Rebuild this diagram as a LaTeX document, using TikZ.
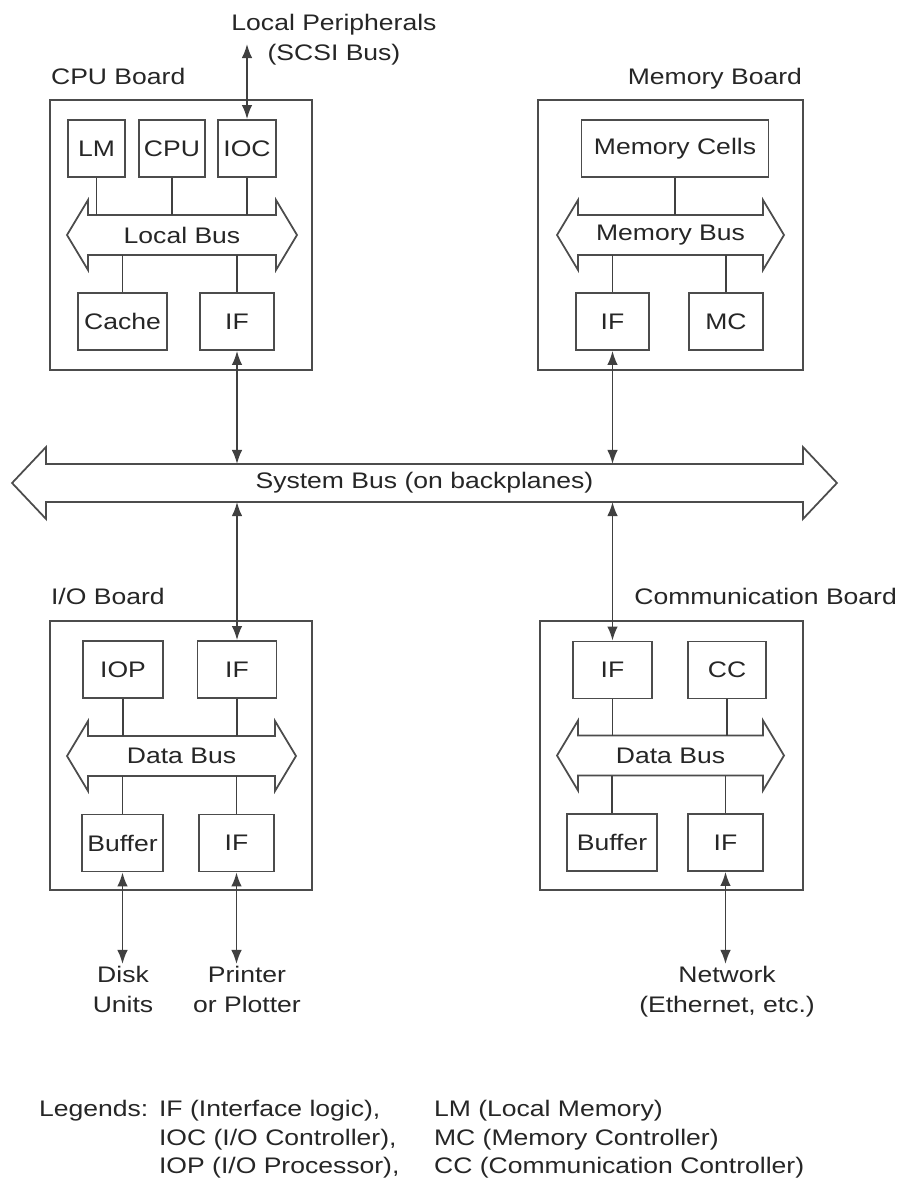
\documentclass[tikz,border=0pt]{standalone}
\usepackage{fontspec}
\setmainfont{Liberation Sans}[FakeStretch=1.18]
\usetikzlibrary{arrows.meta}

\tikzset{
    unit/.style={draw=black!70, line width=1pt, minimum height=1.14cm, inner sep=0pt, text=black!85},
    board/.style={draw=black!70, line width=1pt, inner sep=0pt},
    bus/.style={minimum height=0.8cm, inner sep=0pt, outer sep=0pt, text=black!85},
    busline/.style={draw=black!70, line width=1pt, line join=miter},
    link/.style={draw=black!75, line width=1pt},
    txt/.style={text=black!85, inner sep=1pt},
}

\begin{document}
\begin{tikzpicture}[x=0.02cm, y=-0.02cm, >={Latex[length=8pt,width=6pt]},
    font=\fontsize{12.8pt}{17pt}\selectfont]
    % Khung hình
    \fill[white] (0,0) rectangle (903,1179);
    \useasboundingbox (0,0) rectangle (903,1179);

    % 1. CPU Board
    \node[board, minimum width=5.24cm, minimum height=5.4cm] (cpuboard) at (181,235) {};
    \node[txt, anchor=base west] (cpulabel) at (49,85) {CPU Board};
    \node[unit, minimum width=1.14cm] (lm) at (96.5,148.5) {LM};
    \node[unit, minimum width=1.32cm] (cpu) at (172,148.5) {CPU};
    \node[unit, minimum width=1.16cm] (ioc) at (247,148.5) {IOC};
    \node[unit, minimum width=1.78cm] (cache) at (122.5,321.5) {Cache};
    \node[unit, minimum width=1.48cm] (cpuif) at (237,321.5) {IF};
    \node[bus, minimum width=3.76cm] (lbus) at (182,235) {Local Bus};
    \draw[busline] (lbus.north west) -- ++(0,-15) -- ++(-21,35) -- ++(21,35) -- ++(0,-15)
        -- (lbus.south east) -- ++(0,15) -- ++(21,-35) -- ++(-21,-35) -- ++(0,15) -- cycle;
    \draw[link] (lm.south) -- (lm.south |- lbus.north);
    \draw[link] (cpu.south) -- (cpu.south |- lbus.north);
    \draw[link] (ioc.south) -- (ioc.south |- lbus.north);
    \draw[link] (cache.north) -- (cache.north |- lbus.south);
    \draw[link] (cpuif.north) -- (cpuif.north |- lbus.south);

    % 2. Local peripherals
    \node[txt, align=center] (periph) at (334,40) {Local Peripherals\\(SCSI Bus)};
    \coordinate (scsi) at (247,44);
    \draw[link, <->] (ioc.north) -- (scsi);

    % 3. Memory Board
    \node[board, minimum width=5.3cm, minimum height=5.4cm] (memboard) at (670.5,235) {};
    \node[txt, anchor=base east] (memlabel) at (804,85) {Memory Board};
    \node[unit, minimum width=3.74cm] (cells) at (675,148.5) {Memory Cells};
    \node[unit, minimum width=1.46cm] (memif) at (612.5,321.5) {IF};
    \node[unit, minimum width=1.48cm] (mc) at (726,321.5) {MC};
    \node[bus, minimum width=3.7cm] (mbus) at (670.5,235) {Memory Bus};
    \draw[busline] (mbus.north west) -- ++(0,-15) -- ++(-21,35) -- ++(21,35) -- ++(0,-15)
        -- (mbus.south east) -- ++(0,15) -- ++(21,-35) -- ++(-21,-35) -- ++(0,15) -- cycle;
    \draw[link] (cells.south) -- (cells.south |- mbus.north);
    \draw[link] (memif.north) -- (memif.north |- mbus.south);
    \draw[link] (mc.north) -- (mc.north |- mbus.south);

    % 4. System Bus
    \node[bus, minimum width=15.14cm, minimum height=0.76cm] (sysbus) at (424.5,483) {System Bus (on backplanes)};
    \draw[busline] (sysbus.north west) -- ++(0,-17) -- ++(-34,36) -- ++(34,36) -- ++(0,-17)
        -- (sysbus.south east) -- ++(0,17) -- ++(34,-36) -- ++(-34,-36) -- ++(0,17) -- cycle;

    % 5. I/O Board
    \node[board, minimum width=5.24cm, minimum height=5.38cm] (ioboard) at (181,755.5) {};
    \node[txt, anchor=base west] (iolabel) at (49,604) {I/O Board};
    \node[unit, minimum width=1.6cm] (iop) at (123,669.5) {IOP};
    \node[unit, minimum width=1.58cm] (ioif) at (237,669.5) {IF};
    \node[unit, minimum width=1.62cm] (iobuf) at (122.5,843) {Buffer};
    \node[unit, minimum width=1.5cm] (ioifb) at (236.5,843) {IF};
    \node[bus, minimum width=3.74cm] (iobus) at (181.5,756) {Data Bus};
    \draw[busline] (iobus.north west) -- ++(0,-15) -- ++(-21,35) -- ++(21,35) -- ++(0,-15)
        -- (iobus.south east) -- ++(0,15) -- ++(21,-35) -- ++(-21,-35) -- ++(0,15) -- cycle;
    \draw[link] (iop.south) -- (iop.south |- iobus.north);
    \draw[link] (ioif.south) -- (ioif.south |- iobus.north);
    \draw[link] (iobuf.north) -- (iobuf.north |- iobus.south);
    \draw[link] (ioifb.north) -- (ioifb.north |- iobus.south);

    % 6. Communication Board
    \node[board, minimum width=5.26cm, minimum height=5.38cm] (comboard) at (671.5,755.5) {};
    \node[txt, anchor=base east] (comlabel) at (899,604) {Communication Board};
    \node[unit, minimum width=1.58cm] (comif) at (612.5,670) {IF};
    \node[unit, minimum width=1.56cm] (cc) at (727,670) {CC};
    \node[unit, minimum width=1.8cm] (combuf) at (612,842.5) {Buffer};
    \node[unit, minimum width=1.5cm] (comifb) at (725.5,842.5) {IF};
    \node[bus, minimum width=3.7cm] (cbus) at (670.5,755.5) {Data Bus};
    \draw[busline] (cbus.north west) -- ++(0,-15) -- ++(-21,35) -- ++(21,35) -- ++(0,-15)
        -- (cbus.south east) -- ++(0,15) -- ++(21,-35) -- ++(-21,-35) -- ++(0,15) -- cycle;
    \draw[link] (comif.south) -- (comif.south |- cbus.north);
    \draw[link] (cc.south) -- (cc.south |- cbus.north);
    \draw[link] (combuf.north) -- (combuf.north |- cbus.south);
    \draw[link] (comifb.north) -- (comifb.north |- cbus.south);

    % 7. Boards to system bus
    \draw[link, <->] (cpuif.south) -- (cpuif.south |- sysbus.north);
    \draw[link, <->] (memif.south) -- (memif.south |- sysbus.north);
    \draw[link, <->] (sysbus.south -| ioif.north) -- (ioif.north);
    \draw[link, <->] (sysbus.south -| comif.north) -- (comif.north);

    % 8. External devices
    \node[txt, align=center, anchor=north] (disk) at (123,964) {Disk\\Units};
    \node[txt, align=center, anchor=north] (plotter) at (247,964) {Printer\\or Plotter};
    \node[txt, align=center, anchor=north] (net) at (727,964) {Network\\(Ethernet, etc.)};
    \draw[link, <->] (iobuf.south) -- (iobuf.south |- disk.north);
    \draw[link, <->] (ioifb.south) -- (ioifb.south |- plotter.north);
    \draw[link, <->] (comifb.south) -- (comifb.south |- net.north);

    % 9. Legends
    \node[txt, anchor=base west] (leg) at (37,1116) {Legends:};
    \node[txt, anchor=base west] (legif) at (157,1116) {IF (Interface logic),};
    \node[txt, anchor=base west] (legioc) at (157,1145) {IOC (I/O Controller),};
    \node[txt, anchor=base west] (legiop) at (157,1173) {IOP (I/O Processor),};
    \node[txt, anchor=base west] (leglm) at (432,1116) {LM (Local Memory)};
    \node[txt, anchor=base west] (legmc) at (432,1145) {MC (Memory Controller)};
    \node[txt, anchor=base west] (legcc) at (432,1173) {CC (Communication Controller)};

\end{tikzpicture}
\end{document}
